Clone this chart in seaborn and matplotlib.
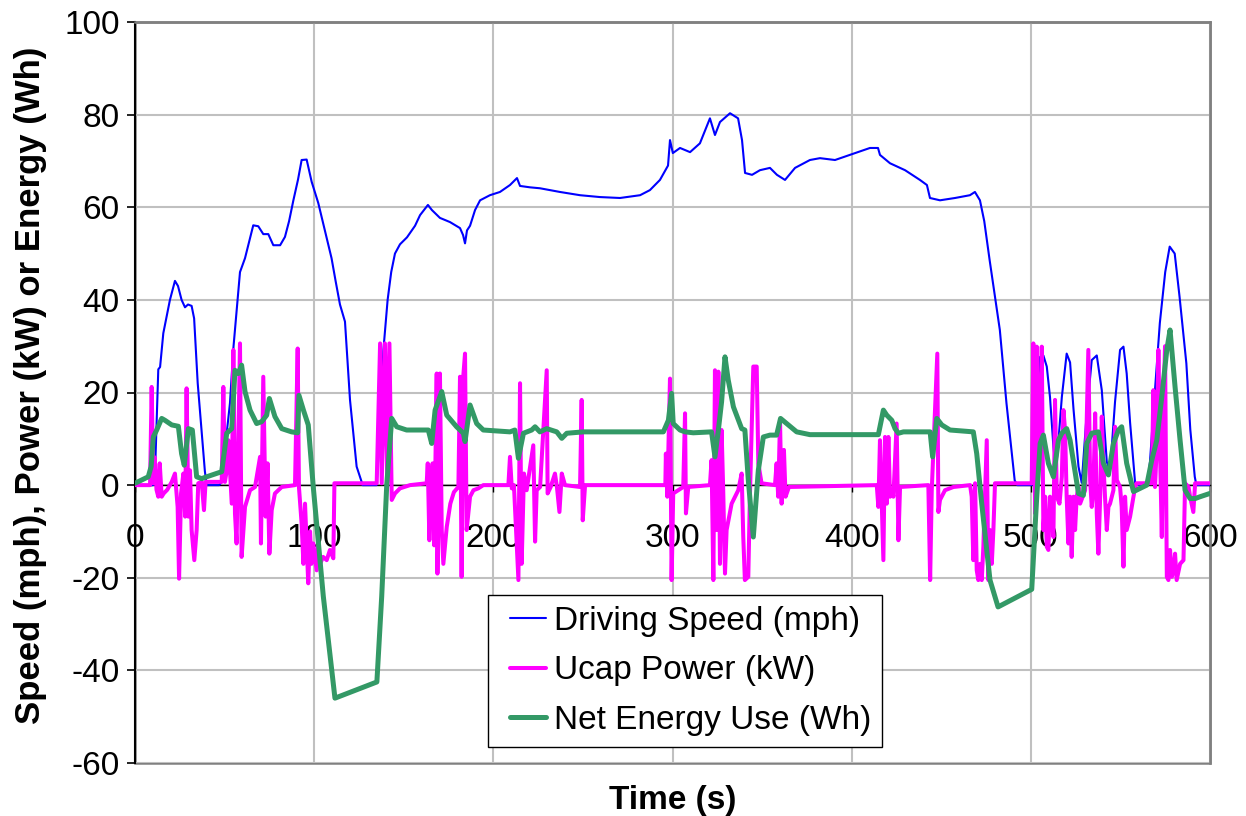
import matplotlib
matplotlib.use("Agg")
import matplotlib.pyplot as plt
from matplotlib.lines import Line2D
from matplotlib.legend_handler import HandlerLine2D
import seaborn as sns
import pandas as pd

# ---------------- data ----------------
speed_t = [0, 10, 11, 13, 14, 15.8, 19.5, 22.3, 24, 26, 27.9, 29.6, 31.6, 33, 35, 39, 40, 47, 48, 50, 53, 55,
           58.6, 61.4, 64, 66, 68.8, 71.6, 74.4, 77.2, 81, 83.7, 86, 88.4, 91, 93, 95.8, 98.6, 102.3, 106,
           109.7, 112, 114.4, 117.2, 120, 123.7, 126.5, 127, 134.8, 136.7, 138.6, 141, 143, 145.1, 147.9,
           151.8, 156.3, 159.1, 163.5, 165.7, 170.2, 175.8, 181.4, 183.1, 184.2, 185.3, 187, 189.8, 192.6,
           198.1, 203.7, 209.3, 213.2, 214.9, 220.5, 226, 237.2, 248.4, 259.5, 270.7, 281.9, 287.4, 293,
           297.5, 298.6, 300.2, 304.2, 309.8, 315.3, 320.9, 323.7, 326.5, 332.1, 336.6, 338.8, 340.5, 344.4,
           348.8, 354.4, 358.3, 362.8, 368.4, 376.7, 382.3, 390.7, 399, 410.2, 414.7, 415.8, 421.4, 429.8,
           438.1, 442, 443.7, 449.3, 457.7, 466, 468.8, 471.6, 474, 477, 482.7, 486.4, 491, 492.5, 500.5,
           503.2, 505.2, 507, 508.9, 510.7, 512.6, 514, 515.5, 517.3, 520, 521.9, 523.8, 526.6, 528.4,
           531.2, 534, 536.8, 539.6, 542.4, 544.2, 547, 549.8, 551.7, 553.5, 555.4, 558.2, 559, 565, 566.5,
           568.2, 572, 575, 577.5, 580.3, 583, 586.8, 589, 591.5, 592.4, 600]
speed_v = [0, 0, 0.4, 25, 25.5, 32.8, 40, 44.1, 43, 40, 38.4, 39, 38.7, 36, 22, 3, 0, 0, 0.5, 7, 17.7, 30,
           46, 49, 53, 56.1, 55.9, 54.2, 54.2, 51.8, 51.8, 53.6, 57, 61.5, 66, 70.2, 70.3, 65.5, 60.9, 55,
           49, 44, 39, 35.3, 18.4, 4, 0.7, 0, 0, 11.2, 29, 40, 46, 50, 52,
           53.5, 56, 58.3, 60.5, 59.4, 57.7, 56.8, 55.5, 54, 52.2, 55, 56, 59.4, 61.5,
           62.6, 63.3, 64.8, 66.3, 64.6, 64.3, 64.1, 63.3, 62.6, 62.2, 62, 62.6, 63.7, 65.9,
           69, 74.5, 71.7, 72.8, 71.9, 73.8, 79.2, 75.6, 78.4, 80.3, 79.2, 74.5, 67.4, 67,
           68, 68.5, 67, 65.9, 68.5, 70.2, 70.6, 70.2, 71.3, 72.8, 72.8, 71.3, 69.5, 68,
           65.9, 64.8, 62, 61.5, 62, 62.6, 63.3, 61.5, 57, 48.6, 33.5, 17.7, 1, 0, 0,
           19, 27.7, 28, 25.6, 19, 8.3, 3, 10, 19, 28.4, 26.5, 16.5, 4, 0.5,
           15.5, 27, 28, 20.5, 5, 3, 18, 29.2, 29.9, 24.1, 13.5, 0.5, 0, 0, 5,
           14.7, 35, 46, 51.5, 50, 40.7, 26.3, 12, 1.8, 0, 0]

power_t = [0, 8.4, 9.3, 10.2, 11, 12, 13, 13.8, 14.9, 16, 18, 20.5, 22.3, 23.8, 24.6, 25.7, 27, 28, 28.8,
           29.8, 30.7, 31.6, 33.1, 34.4, 35.3, 37.2, 38.5, 39.4, 48.4, 49.3, 50.2, 51.2, 52.1, 54, 54.9,
           55.8, 56.7, 58.6, 59.5, 61.4, 64.2, 67, 69.8, 70.3, 71.6, 72.9, 74, 75, 76.3, 78.1, 81.9, 89.3,
           90.8, 91.5, 93, 94, 94.9, 96.7, 97.7, 98.5, 99.5, 101.4, 102.3, 103.3, 105, 107, 108.8, 110.7,
           111.3, 134.9, 136.8, 137.7, 139.5, 140.8, 142, 143.3, 145.1, 147.9, 153.5, 162.8, 163.4, 164.3,
           165.2, 166.1, 167, 168.4, 168.8, 170.2, 171.2, 172.1, 174, 176, 178, 180.5, 181.4, 182.3, 183.2,
           184.2, 185.1, 187, 188.9, 191.6, 194.4, 208.4, 209.3, 210.3, 211.5, 214, 214.9, 215.8, 217.1,
           218.6, 222.3, 223.3, 224.2, 226.1, 229.8, 230.3, 232, 234.4, 235.5, 236.9, 238.2, 240, 248.4,
           249.3, 249.9, 251.2, 296, 296.3, 297.1, 298.6, 299.5, 300.4, 303.2, 306, 307, 307.5, 308.8,
           320.9, 321.8, 322.8, 323.7, 324.6, 325.6, 326.5, 327.4, 328.3, 329.3, 330.2, 333, 336.7, 338.6,
           339.5, 340.4, 342.3, 343.2, 345.1, 347, 347.9, 349.7, 357.2, 358.1, 359, 360, 360.9, 362.2,
           363.1, 365, 414, 414.9, 415.8, 417.7, 418.6, 419.6, 420.5, 421.4, 422.4, 423.3, 425.1, 426.1,
           427, 442.8, 443.8, 444.7, 446.5, 447.8, 448.4, 449.3, 452.1, 456.8, 466.1, 467, 467.9, 468.9,
           469.8, 470.7, 471.7, 472.6, 473.5, 475.4, 476.3, 477.2, 478.2, 479.1, 480, 500.5, 501.4, 502.4,
           503.3, 504.2, 505.2, 506.1, 507, 508, 508.9, 509.8, 510.7, 511.7, 512.6, 513.5, 514.5, 516,
           517.3, 518.2, 519.1, 520, 521, 521.9, 522.8, 523.8, 524.7, 525.6, 526.6, 527.5, 530.3, 532.1,
           533.1, 534, 534.9, 535.9, 536.8, 537.7, 538.7, 539.6, 540.5, 541.4, 542.4, 543.3, 544.2, 546.1,
           547, 548, 549.8, 550.7, 551.7, 552.6, 553.5, 555.4, 557.3, 558.2, 559, 567.5, 568.4, 569.3,
           570.3, 571.2, 572.1, 573.1, 574, 574.9, 575.9, 576.8, 577.7, 578.7, 579.6, 580.5, 581.4, 583.3,
           585.2, 586.1, 588, 588.9, 590.7, 591.7, 600]
power_v = [0, 0, 21.2, 0.4, 6, -1, -2.5, 4.7, -2.5, -1.8, -1, 0.7, 2.5, -4.7, -20.2, -1.8, 2.5, -6.8, 20.9,
           -6.8, 3.2, -9.7, -16.2, -9.7, 0.4, 0.7, -5.4, 0.7, 0.7, 21.2, 0.7, 3.2, 9.7, -4, 29.2,
           -6.1, -12.6, 30.6, -15.5, -4.7, -1.1, -0.4, 6.1, -12.6, 23.4, -6.8, 4.7, -14.8, -5.4, -1.8, -0.4, 0,
           29.5, -0.4, -8.3, -17, -4, -21.2, -10, -17, -12.6, -18.4, -13, -17, -15.5, -16.2, -14, -15.8,
           0.4, 0.4, 30.6, 0.4, 30.6, 0.4, 30.6, -3.2, -1.8, -0.7, 0, 0.4, 4.7, -11.9,
           -0.4, 4.7, -13, 24.1, -19.1, 24.1, -9.7, -17, -9, -4, -1.5, -0.4, 23.4, -19.8, 23.4,
           28.4, -9.7, -2.5, -1.1, -0.7, 0, 0, 6.1, -0.7, 0, -20.5, 22, -17, 2.5,
           -1.1, 8.6, -12.2, -1.1, -0.4, 24.8, -1.8, -0.4, 2.5, -0.4, -5.8, 2.5, 0, -0.4,
           18.4, -7.6, 0, 0, 6.8, -2.5, 23, -20.5, -1.8, -1.1, -0.4, 15.5, -6.1, -0.4,
           0, 5.4, -20.5, 24.8, -9.7, 24.5, -17, 11.9, -1.1, -19.1, -9.7, -4, -1.1, 2.5,
           -11.2, -20.5, -19.8, -2.5, 25.6, 25.6, 4.7, 0.4, 0, 4.7, -2.5, 14, -4, 7.6,
           -2.5, -0.4, 0, -4.7, 9.7, -16.2, 10.4, -4, 10.4, -2.5, -1.1, -2.5, 13.3, -11.9,
           -0.4, 0, -20.5, -1.1, 16.2, 28.4, -5.8, -3.2, -1.1, -0.4, 0, -2.5, -16.2, 0.4,
           -18.4, -20.5, -17, -20.5, -13.3, 9.7, -20.5, -9.7, -17, -9.7, 0.4, 0.4, 30.6, -6.1,
           29.9, 11.9, 4.7, 29.9, -9.7, -2.5, -13.3, -14, -2.5, -6.8, -11.2, 18.4, -2.5, -4,
           1.8, 16.2, 11.9, -2.5, -12.6, -2.5, -15.5, -2.5, -9.7, -2.5, -0.4, -4, -1.1, 29.2,
           1.1, -4.7, -1.1, 15.5, -6.1, -14.8, -2.5, 14.8, 4.7, -2.5, -9.7, -4.7, -4, -1.1,
           12.6, 1.1, -0.4, -4.7, -17.6, -2.5, -9.7, -6.8, -2.5, -0.4, 0.4, 0.4, 20.5, -0.4,
           8.3, 29.2, 7.6, -11.2, 16.2, 30, -19.8, -20.5, -14, -19.8, -18.4, -14.8, -20.5, -17,
           -16.2, 0.4, -0.4, -2.5, -5.8, 0.4, 0.4]

energy_t = [0, 7.4, 9, 10.2, 12.1, 14.9, 16.7, 20.5, 24.2, 26, 27.5, 29.8, 32, 34.4, 37.2, 40, 48.4, 51.2,
            54, 55.8, 57.7, 59.5, 61.4, 64.2, 67.9, 70.7, 73.5, 75, 78.1, 81.9, 87.4, 90.8, 91.5, 94, 96.7,
            99.5, 105.1, 111.6, 135, 137.7, 140.5, 143.3, 146.1, 151.6, 163.7, 165.6, 167.5, 171.2, 174,
            179.5, 183.3, 184.2, 187, 190.7, 194.4, 209.3, 212, 214, 216.8, 221.4, 223.3, 226, 229.8, 235.4,
            238.2, 241, 250.3, 294.9, 297.7, 299.5, 300.4, 304.2, 307, 311.6, 321.8, 323.7, 325.6, 327.4,
            329.3, 331.1, 334, 338.6, 340.4, 342.3, 345.1, 347.9, 350.7, 354.4, 358.1, 360.3, 363.7, 369.3,
            376.7, 414.9, 417.7, 419.6, 422.4, 424.2, 426.1, 428.9, 443.8, 445.2, 447.5, 450.3, 454.9,
            467.9, 469.8, 472.6, 477.2, 481.7, 500.5, 503.3, 505.2, 507, 509.8, 512.6, 515.4, 517.3, 520,
            521.9, 526.6, 529.3, 531.2, 534, 537.7, 540.5, 543.3, 546.1, 548.9, 550.7, 553.5, 557.3, 564.7,
            567.5, 570.3, 573.1, 575.9, 577.7, 580.5, 583.3, 586.1, 588.9, 591.7, 594.5, 599.9]
energy_v = [0.4, 1.8, 4, 10.4, 11.9, 14.4, 14, 13, 12.7, 6.8, 4.3, 12.2, 11.9, 1.8, 1.4, 1.8, 2.9, 11.2,
            12.2, 24.8, 24.1, 25.9, 20.2, 16.2, 13.3, 13.7, 15.1, 18.7, 14.8, 12.2, 11.5, 11.3, 19.4, 16.2, 13,
            -0.4, -24, -46, -42.5, -24, 0, 14.4, 12.6, 11.9, 11.9, 9, 16.2, 20.2, 15.1,
            12.6, 11.2, 9.4, 17.3, 13.3, 11.9, 11.5, 11.9, 5.8, 11.2, 11.9, 12.6, 11.5, 12.2, 11.5,
            10.1, 11.2, 11.5, 11.5, 14, 19.8, 13.3, 11.9, 11.5, 11.3, 11.5, 6.1, 11.9, 18,
            27.7, 22.7, 16.9, 12.2, 11.9, 1.1, -11.2, 3.2, 10.4, 10.8, 10.8, 14.4, 13.3, 11.5,
            10.9, 10.9, 16.2, 15.1, 14, 12.2, 11.2, 11.5, 11.5, 6.1, 14.4, 13, 11.9,
            11.5, 6.8, -4, -20.5, -26.3, -22.5, -2.5, 9, 10.8, 4.7, 1.8, 9.7, 11.2, 12.2,
            9.7, -1.8, -2.2, 9, 11.2, 11.5, 4.7, 2.2, 9, 11.9, 12.6, 4.7, -1.4, 0,
            5.4, 9.7, 19.1, 29.2, 33.5, 21.2, 9.7, -1.1, -2.9, -2.9, -2.5, -1.8]

x_ticks = [0, 100, 200, 300, 400, 500, 600]
y_ticks = [-60, -40, -20, 0, 20, 40, 60, 80, 100]
series_names = ["Driving Speed (mph)", "Ucap Power (kW)", "Net Energy Use (Wh)"]

# ---------------- style ----------------
sns.set_theme(style="white")
plt.rcParams["font.family"] = ["Liberation Sans", "DejaVu Sans"]
plt.rcParams["text.color"] = "black"
plt.rcParams["axes.labelcolor"] = "black"
plt.rcParams["xtick.color"] = "black"
plt.rcParams["ytick.color"] = "black"

FS = 24
fig = plt.figure(figsize=(12.46, 8.16), dpi=100)
ax = fig.add_axes([135 / 1246, 1 - 763 / 816, 1075 / 1246, 741 / 816])

speed_df = pd.DataFrame({"t": speed_t, "v": speed_v})
power_df = pd.DataFrame({"t": power_t, "v": power_v})
energy_df = pd.DataFrame({"t": energy_t, "v": energy_v})

sns.lineplot(data=speed_df, x="t", y="v", ax=ax, color="#0000FF", lw=1.5,
             estimator=None, sort=False, label=series_names[0], zorder=3)
sns.lineplot(data=power_df, x="t", y="v", ax=ax, color="#FF00FF", lw=2.9,
             estimator=None, sort=False, label=series_names[1], zorder=4)
sns.lineplot(data=energy_df, x="t", y="v", ax=ax, color="#339966", lw=3.6,
             estimator=None, sort=False, label=series_names[2], zorder=5)

ax.set_xlim(0, 600)
ax.set_ylim(-60, 100)
ax.set_xticks(x_ticks)
ax.set_yticks(y_ticks)
ax.set_xticklabels([str(v) for v in x_ticks])
ax.set_yticklabels([str(v) for v in y_ticks])

ax.grid(True, color="#c0c0c0", lw=1.5)
ax.set_axisbelow(True)

# frame
ax.spines["bottom"].set_position(("data", 0))
ax.spines["bottom"].set_color("black")
ax.spines["bottom"].set_linewidth(1.0)
ax.spines["bottom"].set_zorder(2.5)
ax.spines["left"].set_color("black")
ax.spines["left"].set_linewidth(1.5)
for s in ("top", "right"):
    ax.spines[s].set_color("#808080")
    ax.spines[s].set_linewidth(1.8)
ax.patch.set_edgecolor("#808080")
ax.patch.set_linewidth(1.8)

ax.tick_params(axis="x", direction="out", length=5, width=1, color="black",
               labelsize=FS, pad=22, bottom=True, labelcolor="black")
ax.tick_params(axis="y", direction="out", length=6, width=1.2, color="black",
               labelsize=FS, pad=5, left=True, labelcolor="black")

ax.set_xlabel("Time (s)", fontsize=FS, fontweight="bold", color="black")
ax.set_ylabel("Speed (mph), Power (kW) or Energy (Wh)", fontsize=25, fontweight="bold", color="black")
ax.xaxis.set_label_coords(0.5, -0.030)
ax.yaxis.set_label_coords(-0.082, 0.51)

hmap = {Line2D: HandlerLine2D(xpad=0.33)}
leg = ax.legend(loc="upper left", bbox_to_anchor=(0.328, 0.227), borderaxespad=0,
                fontsize=FS, frameon=True, fancybox=False, shadow=False,
                handlelength=1.42, handletextpad=0.22, borderpad=0.34, labelspacing=0.55,
                handler_map=hmap)
leg.get_frame().set_edgecolor("black")
leg.get_frame().set_linewidth(1.0)
leg.get_frame().set_facecolor("white")
leg.get_frame().set_alpha(1)
leg.set_zorder(10)
for txt in leg.get_texts():
    txt.set_color("black")

fig.savefig("out.png", dpi=100)
